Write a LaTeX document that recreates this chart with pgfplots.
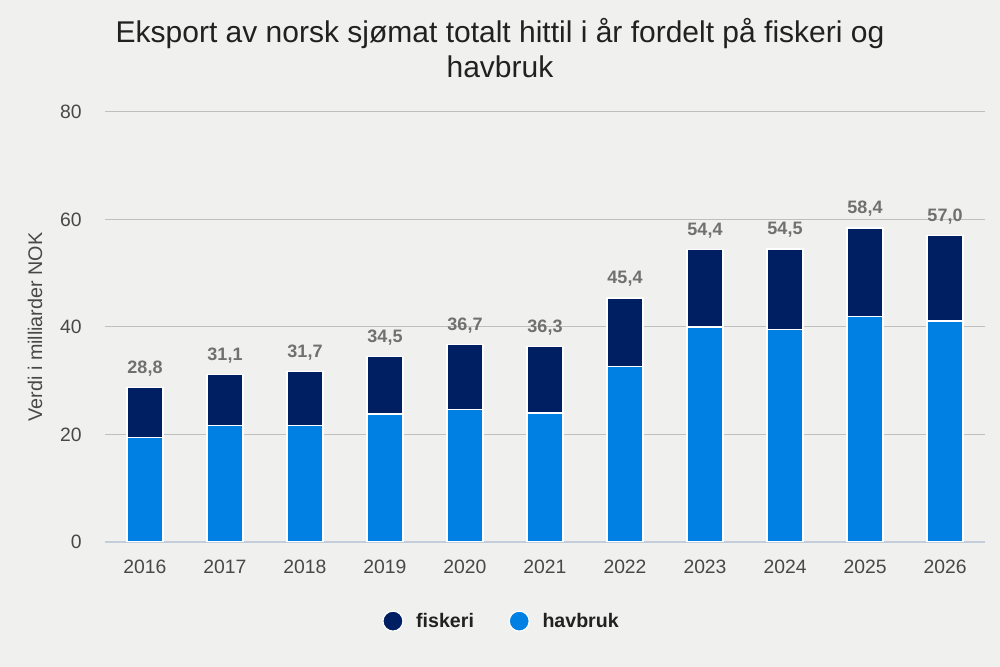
\documentclass[border=0pt]{standalone}
\usepackage{pgfplots}
\pgfplotsset{compat=1.18}
\usepackage{fontspec}
\setmainfont{Liberation Sans}
\definecolor{bg}{RGB}{240,241,239}
\definecolor{dark}{RGB}{0,30,98}
\definecolor{light}{RGB}{0,128,226}
\definecolor{grid}{RGB}{220,223,224}
\definecolor{base}{RGB}{196,205,220}
\definecolor{txt}{RGB}{72,72,72}
\definecolor{lbl}{RGB}{112,112,112}
\begin{document}
\begin{tikzpicture}
\fill[bg] (0,0) rectangle (750pt,500.25pt);
\node[align=center, font=\fontsize{22.5}{26.5}\selectfont, text=black!87] at (375pt,464pt) {Eksport av norsk sjømat totalt hittil i år fordelt på fiskeri og\\havbruk};
\node[rotate=90, font=\fontsize{14.8}{17}\selectfont, text=txt] at (26.25pt,255pt) {Verdi i milliarder NOK};
\begin{axis}[
  at={(78.75pt,93.75pt)}, anchor=south west,
  scale only axis, width=660pt, height=322.5pt,
  ybar stacked, bar width=27pt,
  xmin=-0.5, xmax=10.5, ymin=0, ymax=80,
  xtick={0,...,10},
  xticklabels={2016,2017,2018,2019,2020,2021,2022,2023,2024,2025,2026},
  ytick={0,20,40,60,80},
  axis x line*=bottom, axis y line*=left,
  x axis line style={draw=base, line width=1pt, -},
  y axis line style={draw=none},
  ymajorgrids, xmajorgrids=false, grid style={grid, line width=0.75pt},
  major tick length=0pt,
  tick label style={font=\fontsize{14.5}{17}\selectfont, text=txt},
  /pgf/number format/assume math mode=true,
  yticklabel style={xshift=-14pt},
  xticklabel style={yshift=-10pt},
  legend style={at={(0.451,-0.184)}, anchor=center, draw=none, fill=none, legend columns=2,
    font=\fontsize{14.7}{17}\selectfont\bfseries, text=black!87,
    /tikz/every odd column/.append style={column sep=7.5pt},
    /tikz/every even column/.append style={column sep=24pt}},
  legend image code/.code={\fill[#1] (0cm,0cm) circle (7.5pt);},
  reverse legend,
]
\addplot[fill=light, draw=white, line width=0.9pt] coordinates {
(0,19.5) (1,21.6) (2,21.6) (3,23.8) (4,24.7) (5,24.0) (6,32.6) (7,40.0) (8,39.6) (9,41.9) (10,41.1)};
\addplot[fill=dark, draw=white, line width=0.9pt] coordinates {
(0,9.3) (1,9.5) (2,10.1) (3,10.7) (4,12.0) (5,12.3)
(6,12.8) (7,14.4) (8,14.9) (9,16.5) (10,15.9)};
\legend{havbruk,fiskeri}
\end{axis}
\begin{axis}[
  at={(78.75pt,93.75pt)}, anchor=south west,
  scale only axis, width=660pt, height=322.5pt,
  xmin=-0.5, xmax=10.5, ymin=0, ymax=80,
  hide axis,
]
\addplot[draw=none, mark=none,
  nodes near coords,
  nodes near coords style={font=\fontsize{13.5}{16}\selectfont\bfseries, text=lbl, anchor=south, yshift=5pt,
    /pgf/number format/.cd, fixed, fixed zerofill, precision=1, use comma, assume math mode=true},
] coordinates {
(0,28.8) (1,31.1) (2,31.7) (3,34.5) (4,36.7) (5,36.3)
(6,45.4) (7,54.4) (8,54.5) (9,58.4) (10,57.0)};
\end{axis}
\end{tikzpicture}
\end{document}
